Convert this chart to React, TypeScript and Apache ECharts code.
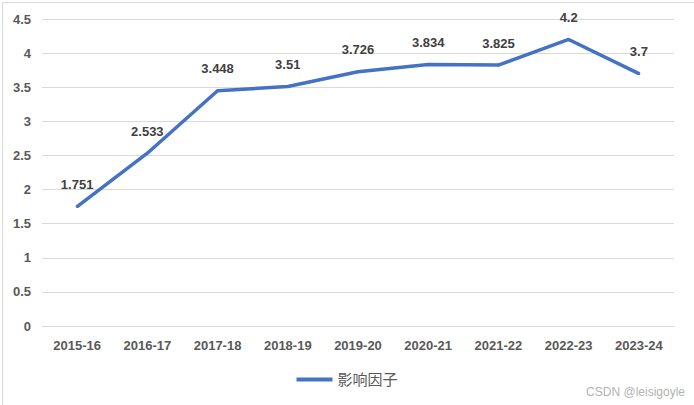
import React, { useEffect, useRef } from "react";
import * as echarts from "echarts";

const categories = ["2015-16", "2016-17", "2017-18", "2018-19", "2019-20", "2020-21", "2021-22", "2022-23", "2023-24"];
const impactFactor = [1.751, 2.533, 3.448, 3.51, 3.726, 3.834, 3.825, 4.2, 3.7];
const seriesName = "影响因子";
const watermark = "CSDN @leisigoyle";

export default function App() {
  const ref = useRef<HTMLDivElement>(null);
  useEffect(() => {
    if (!ref.current) return;
    const chart = echarts.init(ref.current, null, { renderer: "svg" });
    const font = "'Liberation Sans', 'Noto Sans CJK SC', sans-serif";
    chart.setOption({
      animation: false,
      backgroundColor: "#ffffff",
      grid: { left: 42, right: 20, top: 19, bottom: 79 },
      xAxis: {
        type: "category",
        data: categories,
        boundaryGap: true,
        axisLine: { show: true, lineStyle: { color: "#d9d9d9", width: 1 } },
        axisTick: { show: false },
        axisLabel: { color: "#595959", fontWeight: "bold", fontSize: 13, fontFamily: font, margin: 13 },
      },
      yAxis: {
        type: "value",
        min: 0,
        max: 4.5,
        interval: 0.5,
        axisLine: { show: false },
        axisTick: { show: false },
        splitLine: { lineStyle: { color: "#d9d9d9", width: 1 } },
        axisLabel: { color: "#595959", fontWeight: "bold", fontSize: 13, fontFamily: font, margin: 11 },
      },
      legend: {
        bottom: 13,
        left: "center",
        itemWidth: 36,
        itemHeight: 4,
        icon: "rect",
        itemGap: 6,
        textStyle: { color: "#595959", fontSize: 15, fontFamily: font },
        data: [seriesName],
      },
      series: [
        {
          name: seriesName,
          type: "line",
          data: impactFactor,
          showSymbol: true,
          symbol: "circle",
          symbolSize: 3,
          lineStyle: { color: "#4472C4", width: 3.5 },
          itemStyle: { color: "#4472C4" },
          label: {
            show: true,
            position: "top",
            distance: 14,
            color: "#404040",
            fontWeight: "bold",
            fontSize: 13,
            fontFamily: font,
          },
        },
      ],
      graphic: [
        {
          type: "rect",
          left: 0,
          top: 0,
          shape: { x: 0.5, y: 0.5, width: 693, height: 403 },
          style: { fill: "none", stroke: "#d9d9d9", lineWidth: 1 },
          silent: true,
        },
        {
          type: "text",
          right: 9,
          bottom: 7,
          style: { text: watermark, fill: "#b3b3b3", fontSize: 12, fontFamily: font },
          silent: true,
        },
      ],
    });
    return () => chart.dispose();
  }, []);
  return (
    <div
      ref={ref}
      style={{ position: "fixed", left: 0, top: 0, width: 694, height: 405 }}
    />
  );
}
